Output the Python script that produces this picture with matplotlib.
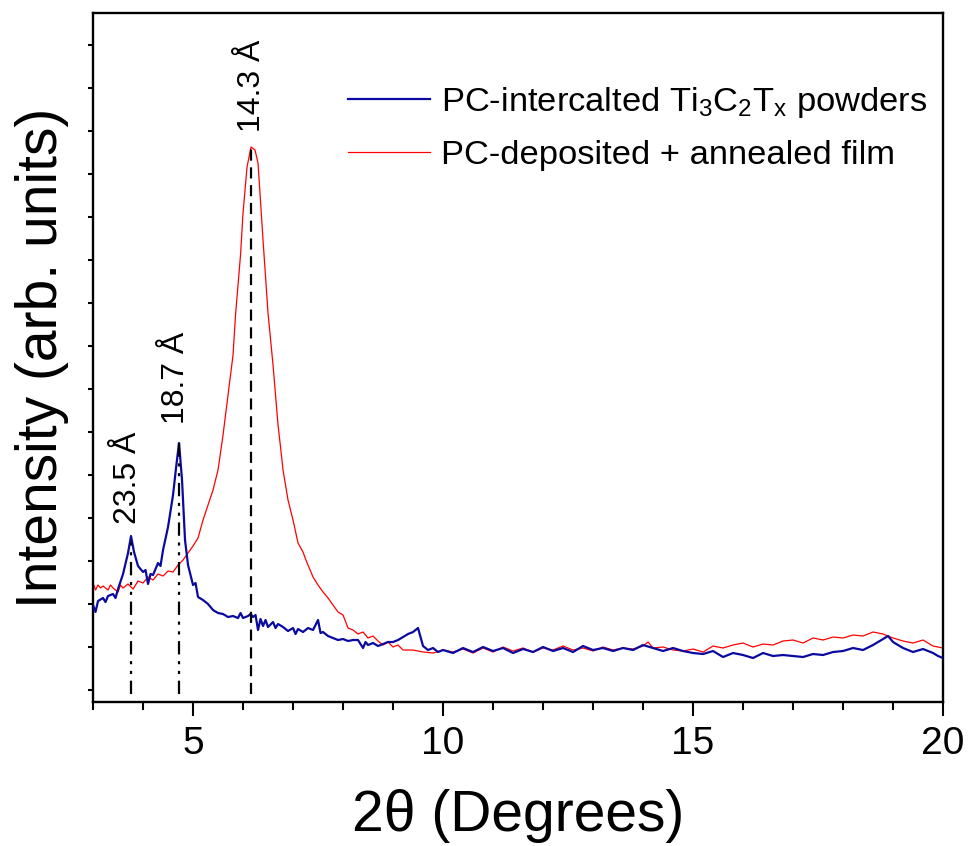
"""XRD patterns of PC-intercalated Ti3C2Tx powders vs PC-deposited + annealed film."""

import numpy as np
import matplotlib
matplotlib.use("Agg")
import matplotlib.pyplot as plt
from matplotlib.ticker import MultipleLocator, NullFormatter

plt.rcParams["font.family"] = ["Liberation Sans", "DejaVu Sans"]
plt.rcParams["mathtext.fontset"] = "custom"
plt.rcParams["mathtext.rm"] = "Liberation Sans"
plt.rcParams["mathtext.it"] = "Liberation Sans"

# ── data (arbitrary intensity units) ───────────────────────────────────── #

powder_2theta = [
    3.00, 3.05, 3.10, 3.20, 3.25, 3.30, 3.40, 3.45, 3.50, 3.60, 3.70, 3.76,
    3.82, 3.90, 4.00, 4.05, 4.10, 4.15, 4.20, 4.30, 4.35, 4.40, 4.50, 4.60,
    4.66, 4.72, 4.78, 4.84, 4.90, 5.00, 5.05, 5.10, 5.20, 5.30, 5.40, 5.50,
    5.60, 5.70, 5.80, 5.90, 5.95, 6.00, 6.10, 6.15, 6.20, 6.25, 6.30, 6.35,
    6.40, 6.45, 6.50, 6.60, 6.65, 6.70, 6.80, 6.90, 7.00, 7.05, 7.10, 7.20,
    7.30, 7.40, 7.50, 7.55, 7.60, 7.70, 7.80, 7.90, 8.00, 8.10, 8.20, 8.30,
    8.40, 8.45, 8.50, 8.60, 8.70, 8.80, 8.90, 9.00, 9.10, 9.20, 9.30, 9.40,
    9.50, 9.60, 9.70, 9.80, 9.90, 10.0, 10.2, 10.4, 10.6, 10.8, 11.0, 11.2,
    11.4, 11.6, 11.8, 12.0, 12.2, 12.4, 12.6, 12.8, 13.0, 13.2, 13.4, 13.6,
    13.8, 14.0, 14.2, 14.4, 14.6, 14.8, 15.0, 15.2, 15.4, 15.6, 15.8, 16.0,
    16.2, 16.4, 16.6, 16.8, 17.0, 17.2, 17.4, 17.6, 17.8, 18.0, 18.2, 18.4,
    18.6, 18.8, 18.9, 19.0, 19.2, 19.4, 19.6, 19.8, 19.9, 20.0,
]
powder_intensity = [
    97, 90, 101, 104, 100, 106, 108, 104, 113, 128, 149, 166,
    150, 136, 130, 132, 118, 128, 127, 139, 136, 152, 175, 207,
    234, 259, 222, 162, 137, 117, 119, 105, 102, 98, 92, 89,
    88, 85, 86, 84, 89, 84, 86, 88, 85, 87, 72, 83,
    76, 82, 75, 80, 74, 78, 75, 71, 74, 68, 73, 70,
    74, 72, 82, 69, 70, 66, 64, 62, 63, 61, 62, 62,
    54, 60, 57, 59, 56, 58, 60, 60, 62, 65, 68, 70,
    74, 56, 52, 54, 50, 52, 49, 54, 50, 55, 51, 54,
    49, 53, 50, 55, 51, 54, 50, 56, 52, 54, 51, 54,
    52, 57, 54, 51, 54, 51, 49, 48, 51, 45, 49, 47,
    44, 49, 46, 47, 46, 45, 48, 47, 50, 51, 54, 52,
    57, 63, 66, 60, 54, 50, 53, 49, 46, 44,
]

film_2theta = [
    3.00, 3.05, 3.10, 3.15, 3.20, 3.30, 3.35, 3.40, 3.50, 3.55, 3.60, 3.70,
    3.80, 3.90, 4.00, 4.10, 4.20, 4.30, 4.40, 4.50, 4.60, 4.70, 4.80, 4.90,
    5.00, 5.10, 5.20, 5.30, 5.40, 5.50, 5.60, 5.70, 5.80, 5.85, 5.95, 6.00,
    6.08, 6.16, 6.24, 6.30, 6.40, 6.50, 6.60, 6.70, 6.75, 6.80, 6.90, 7.00,
    7.10, 7.20, 7.25, 7.30, 7.40, 7.50, 7.60, 7.70, 7.80, 7.90, 8.00, 8.10,
    8.20, 8.30, 8.40, 8.50, 8.60, 8.70, 8.80, 8.90, 9.00, 9.10, 9.20, 9.40,
    9.60, 9.80, 10.0, 10.2, 10.4, 10.6, 10.8, 11.0, 11.2, 11.4, 11.6, 11.8,
    12.0, 12.2, 12.4, 12.6, 12.8, 13.0, 13.2, 13.4, 13.6, 13.8, 14.0, 14.1,
    14.2, 14.4, 14.6, 14.8, 15.0, 15.2, 15.4, 15.6, 15.8, 16.0, 16.2, 16.4,
    16.6, 16.8, 17.0, 17.2, 17.4, 17.6, 17.8, 18.0, 18.2, 18.4, 18.6, 18.8,
    19.0, 19.2, 19.4, 19.6, 19.8, 20.0,
]
film_intensity = [
    119, 112, 117, 114, 116, 112, 117, 114, 110, 117, 114, 118,
    113, 121, 119, 125, 122, 128, 126, 131, 130, 137, 142, 149,
    156, 164, 182, 197, 212, 232, 267, 307, 347, 387, 447, 489,
    535, 555, 552, 539, 462, 389, 337, 277, 255, 232, 202, 182,
    159, 150, 143, 137, 125, 117, 110, 104, 97, 90, 87, 74,
    72, 68, 70, 64, 66, 61, 57, 60, 55, 57, 52, 52,
    50, 49, 52, 50, 53, 49, 54, 50, 55, 51, 54, 50,
    54, 52, 56, 52, 54, 51, 55, 52, 54, 53, 56, 60,
    54, 55, 52, 51, 53, 50, 56, 54, 57, 59, 55, 58,
    57, 61, 62, 59, 64, 62, 65, 64, 67, 66, 70, 68,
    64, 61, 59, 62, 56, 54,
]

# d-spacings marked on the reflections (Cu Kα)
peak_2theta = [3.76, 4.72, 6.16]
peak_series = ["powder", "powder", "film"]
peak_labels = ["23.5 Å", "18.7 Å", "14.3 Å"]

# ── figure ─────────────────────────────────────────────────────────────── #

BLUE = "#0a0aa0"
RED = "#ff0000"
DASH_DOT_DOT = (0, (6.0, 3.0, 1.4, 3.0, 1.4, 3.0))

fig = plt.figure(figsize=(9.71, 8.46), dpi=100)
ax = fig.add_axes([0.0958, 0.1702, 0.8754, 0.8144])

ax.plot(powder_2theta, powder_intensity, color=BLUE, lw=1.6,
        label=r"PC-intercalted Ti$_3$C$_2$T$_x$ powders", zorder=3)
ax.plot(film_2theta, film_intensity, color=RED, lw=0.9,
        label="PC-deposited + annealed film", zorder=2)

series = {
    "powder": (powder_2theta, powder_intensity),
    "film": (film_2theta, film_intensity),
}
styles = [DASH_DOT_DOT, DASH_DOT_DOT, (0, (5.0, 3.0))]
text_offsets = [(-2, 9), (-2, 14), (1, 11)]
for x0, key, label, ls, off in zip(peak_2theta, peak_series, peak_labels,
                                   styles, text_offsets):
    xs, ys = series[key]
    top = float(np.interp(x0, xs, ys))
    ax.plot([x0, x0], [8, top], color="black", lw=1.6, linestyle=ls, zorder=4)
    ax.annotate(label, xy=(x0, top), xytext=off, textcoords="offset points",
                rotation=90, ha="center", va="bottom", fontsize=23)

ax.set_xlim(3, 20)
ax.set_ylim(0, 689)
ax.xaxis.set_major_locator(MultipleLocator(5))
ax.xaxis.set_minor_locator(MultipleLocator(1))
ax.yaxis.set_major_locator(MultipleLocator(43, offset=12))
ax.yaxis.set_major_formatter(NullFormatter())

ax.tick_params(axis="x", which="major", direction="out", length=10, width=1.5,
               labelsize=28, pad=7, top=False)
ax.tick_params(axis="x", which="minor", direction="out", length=5.5, width=1.5,
               top=False)
ax.tick_params(axis="y", which="major", direction="out", length=3.5, width=1.5,
               right=False)
for sp in ax.spines.values():
    sp.set_linewidth(1.7)

ax.set_xlabel(r"2θ (Degrees)", fontsize=41, labelpad=20)
ax.set_ylabel("Intensity (arb. units)", fontsize=41, labelpad=10)

ax.legend(loc="upper left", bbox_to_anchor=(0.2994, 0.895), frameon=False,
          fontsize=24.8, handlelength=2.4, handletextpad=0.3,
          labelspacing=0.58, borderpad=0, borderaxespad=0)

fig.savefig("out.png", dpi=100)
